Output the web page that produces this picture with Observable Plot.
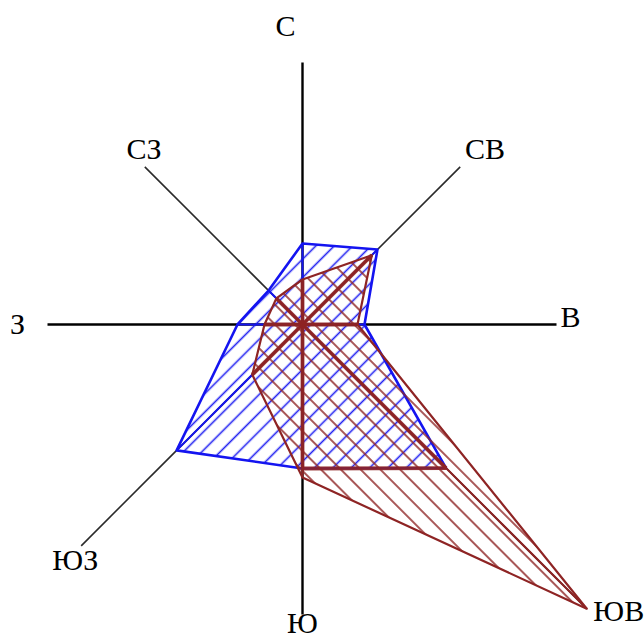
<!DOCTYPE html>
<html><head><meta charset="utf-8">
<script src="https://cdn.jsdelivr.net/npm/d3@7"></script>
<script src="https://cdn.jsdelivr.net/npm/@observablehq/plot@0.6"></script>
<style>
html,body{margin:0;padding:0;background:#fff;}
#chart svg{display:block;}
</style></head><body><div id="chart"></div>
<script>
// Wind directions (clockwise from north)
const directions = ["С", "СВ", "В", "ЮВ", "Ю", "ЮЗ", "З", "СЗ"];
// Series 1 (blue polygon)
const seriesBlue = [8.1, 10.6, 6.2, 20.3, 14.4, 17.8, 6.5, 4.8];
// Series 2 (maroon polygon)
const seriesRed = [4.5, 9.8, 5.5, 40.2, 15.3, 7.1, 3.8, 3.7];
// Maroon heavy spokes
const innerRed = [4.5, 9.8, 5.5, 20.3, 14.4, 7.1, 3.8, 3.7];
// Axis reach per direction
const axisReach = [26.2, 22.3, 25.4, 40.2, 29.0, 31.3, 25.5, 22.3];
// Label distance per direction
const labelReach = [29.8, 25.4, 26.8, 42.6, 30.9, 32.7, 28.5, 23.7];

// style nudges for labels (units)
const labelNudge = {"С": [-1.7, 0], "СВ": [0.3, -0.4], "В": [0, 0.7], "ЮВ": [1.5, 1.4], "Ю": [0, 1.05], "ЮЗ": [0.4, -0.5], "З": [0, 0], "СЗ": [0.9, 0.8]};

const rows = directions.map((dir, i) => ({
  dir, i, angle: i * Math.PI / 4,
  blue: seriesBlue[i], red: seriesRed[i], inner: innerRed[i],
  axis: axisReach[i], label: labelReach[i]
}));
const px = (r, a) => r * Math.sin(a);
const py = (r, a) => r * Math.cos(a);

const BLUE = "#1414f0";
const RED = "#8e2424";

const cardinal = rows.filter(d => d.i % 2 === 0);
const diagonal = rows.filter(d => d.i % 2 === 1);
const sIdx = rows[4], seIdx = rows[3];

const svg = Plot.plot({
  width: 644, height: 643, margin: 0,
  x: {domain: [-30.2, 34.2], axis: null},
  y: {domain: [-31.9, 32.4], axis: null},
  style: {background: "white", fontFamily: "Liberation Serif"},
  marks: [
    Plot.link(diagonal, {x1: d => 0, y1: d => 0, x2: d => px(d.axis, d.angle), y2: d => py(d.axis, d.angle), stroke: "#2a2a2a", strokeWidth: 1.6}),
    Plot.link(cardinal, {x1: d => 0, y1: d => 0, x2: d => px(d.axis, d.angle), y2: d => py(d.axis, d.angle), stroke: "#000", strokeWidth: 2.4}),
    // blue polygon
    Plot.line(rows, {x: d => px(d.blue, d.angle), y: d => py(d.blue, d.angle), curve: "linear-closed", fill: "url(#hatchBlue)", stroke: "none"}),
    Plot.link(rows, {x1: d => 0, y1: d => 0, x2: d => px(d.blue, d.angle), y2: d => py(d.blue, d.angle), stroke: BLUE, strokeWidth: 2}),
    Plot.line(rows, {x: d => px(d.blue, d.angle), y: d => py(d.blue, d.angle), curve: "linear-closed", stroke: BLUE, strokeWidth: 2.6, strokeLinejoin: "round"}),
    // maroon polygon
    Plot.line(rows, {x: d => px(d.red, d.angle), y: d => py(d.red, d.angle), curve: "linear-closed", fill: "url(#hatchRed)", stroke: "none"}),
    Plot.link(rows, {x1: d => 0, y1: d => 0, x2: d => px(d.red, d.angle), y2: d => py(d.red, d.angle), stroke: RED, strokeWidth: 2}),
    Plot.link(rows, {x1: d => 0, y1: d => 0, x2: d => px(d.inner, d.angle), y2: d => py(d.inner, d.angle), stroke: RED, strokeWidth: 3.8, strokeOpacity: 0.9}),
    Plot.link([sIdx], {x1: d => px(d.inner, d.angle), y1: d => py(d.inner, d.angle), x2: d => px(seIdx.inner, seIdx.angle), y2: d => py(seIdx.inner, seIdx.angle), stroke: RED, strokeWidth: 3.8, strokeOpacity: 0.9}),
    Plot.line(rows, {x: d => px(d.red, d.angle), y: d => py(d.red, d.angle), curve: "linear-closed", stroke: RED, strokeWidth: 2.2, strokeLinejoin: "round"}),
    // labels
    Plot.text(rows, {
      x: d => px(d.label, d.angle) + labelNudge[d.dir][0],
      y: d => py(d.label, d.angle) + labelNudge[d.dir][1],
      text: "dir", fontSize: 30, fill: "#000", fontFamily: "Liberation Serif"
    })
  ]
});

const defs = d3.select(svg).insert("defs", ":first-child");
function hatch(id, color, spacing, angle, width, opacity) {
  const p = defs.append("pattern").attr("id", id)
    .attr("patternUnits", "userSpaceOnUse")
    .attr("width", spacing).attr("height", spacing)
    .attr("patternTransform", `rotate(${angle})`);
  p.append("line").attr("x1", spacing / 2).attr("y1", 0).attr("x2", spacing / 2).attr("y2", spacing)
    .attr("stroke", color).attr("stroke-width", width).attr("stroke-opacity", opacity);
}
hatch("hatchBlue", BLUE, 13, 45, 1.6, 0.95);
hatch("hatchRed", RED, 14, -45, 1.8, 0.85);

document.getElementById("chart").appendChild(svg);
</script></body></html>
